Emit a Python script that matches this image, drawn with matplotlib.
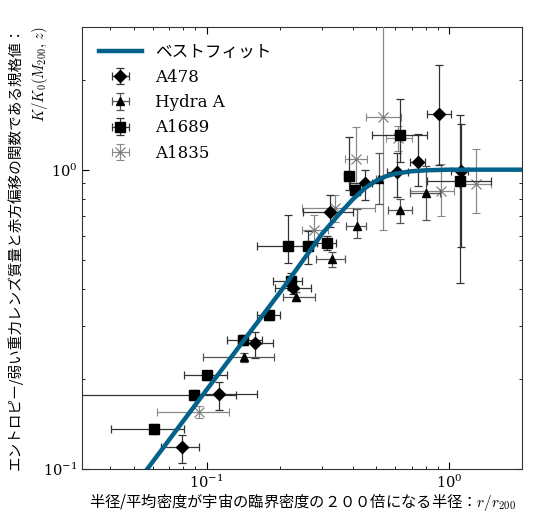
import matplotlib
matplotlib.use('Agg')
import matplotlib.pyplot as plt
import numpy as np

plt.rcParams['mathtext.fontset'] = 'cm'
plt.rcParams['font.family'] = ['DejaVu Serif']

# best-fit curve
fit_r = [0.05, 0.1, 0.2, 0.3, 0.35, 0.4, 0.45, 0.5, 0.55, 0.6, 0.7, 0.8, 1.0, 2.0]
fit_k = [0.087, 0.184, 0.388, 0.612, 0.707, 0.795, 0.868, 0.918, 0.951, 0.97, 0.988, 0.995, 1.0, 1.0]

# A478 (diamonds)
a478_r = [0.0794, 0.112, 0.159, 0.228, 0.324, 0.451, 0.607, 0.741, 0.91, 1.117]
a478_k = [0.119, 0.178, 0.263, 0.404, 0.722, 0.903, 0.979, 1.057, 1.535, 0.987]
a478_rlo = [0.0649, 0.09, 0.135, 0.191, 0.249, 0.39, 0.552, 0.688, 0.807, 1.02]
a478_rhi = [0.093, 0.161, 0.188, 0.27, 0.40, 0.48, 0.677, 0.794, 1.02, 1.2]
a478_klo = [0.105, 0.157, 0.235, 0.385, 0.646, 0.79, 0.81, 0.88, 1.04, 0.55]
a478_khi = [0.13, 0.196, 0.288, 0.425, 0.825, 1.0, 1.14, 1.32, 2.23, 1.42]

# Hydra A (triangles)
hyd_r = [0.1425, 0.233, 0.328, 0.418, 0.515, 0.63, 0.8]
hyd_k = [0.236, 0.377, 0.503, 0.65, 0.93, 0.735, 0.836]
hyd_rlo = [0.097, 0.206, 0.282, 0.377, 0.5, 0.56, 0.688]
hyd_rhi = [0.19, 0.28, 0.372, 0.456, 0.53, 0.7, 0.915]
hyd_klo = [0.228, 0.365, 0.475, 0.59, 0.77, 0.665, 0.68]
hyd_khi = [0.244, 0.39, 0.533, 0.74, 1.14, 0.80, 1.03]

# A1689 (squares)
a1689_r = [0.0607, 0.0887, 0.1, 0.141, 0.181, 0.222, 0.217, 0.262, 0.313, 0.386, 0.409, 0.626, 1.106]
a1689_k = [0.136, 0.177, 0.206, 0.27, 0.327, 0.425, 0.557, 0.554, 0.571, 0.955, 0.853, 1.31, 0.917]
a1689_rlo = [0.0405, 0.02, 0.081, 0.121, 0.161, 0.188, 0.162, 0.25, 0.284, 0.37, 0.39, 0.483, 0.807]
a1689_rhi = [0.0806, 0.132, 0.121, 0.17, 0.2, 0.247, 0.258, 0.275, 0.343, 0.40, 0.43, 0.807, 1.49]
a1689_klo = [0.131, 0.170, 0.199, 0.26, 0.316, 0.397, 0.488, 0.485, 0.54, 0.857, 0.82, 1.06, 0.42]
a1689_khi = [0.141, 0.184, 0.213, 0.28, 0.338, 0.452, 0.707, 0.622, 0.60, 1.29, 0.89, 1.72, 1.52]

# A1835 (crosses)
a1835_r = [0.093, 0.277, 0.338, 0.412, 0.535, 0.617, 0.924, 1.285]
a1835_k = [0.155, 0.627, 0.744, 1.086, 1.496, 1.28, 0.851, 0.898]
a1835_rlo = [0.0622, 0.247, 0.247, 0.372, 0.453, 0.55, 0.688, 1.1]
a1835_rhi = [0.124, 0.316, 0.494, 0.457, 0.636, 0.70, 1.05, 1.49]
a1835_klo = [0.148, 0.561, 0.67, 0.84, 0.63, 1.15, 0.70, 0.718]
a1835_khi = [0.162, 0.707, 0.825, 1.39, 5.0, 1.40, 1.047, 1.17]


def errs(v, lo, hi):
    v = np.array(v)
    return [v - np.array(lo), np.array(hi) - v]


fig = plt.figure(figsize=(5.35, 5.15), dpi=100)
ax = fig.add_axes([0.153, 0.089, 0.823, 0.859])

ax.plot(fit_r, fit_k, color='#03628a', lw=3.2, label='ベストフィット', zorder=5)

ax.errorbar(a478_r, a478_k, xerr=errs(a478_r, a478_rlo, a478_rhi), yerr=errs(a478_k, a478_klo, a478_khi),
            fmt='D', color='black', ms=6.5, ecolor='#333333', elinewidth=0.9, capsize=3, capthick=0.9,
            label='A478', zorder=4)
ax.errorbar(hyd_r, hyd_k, xerr=errs(hyd_r, hyd_rlo, hyd_rhi), yerr=errs(hyd_k, hyd_klo, hyd_khi),
            fmt='^', color='black', ms=6, ecolor='#555555', elinewidth=0.9, capsize=3, capthick=0.9,
            label='Hydra A', zorder=4)
ax.errorbar(a1689_r, a1689_k, xerr=errs(a1689_r, a1689_rlo, a1689_rhi), yerr=errs(a1689_k, a1689_klo, a1689_khi),
            fmt='s', color='black', ms=6.5, ecolor='#333333', elinewidth=0.9, capsize=3, capthick=0.9,
            label='A1689', zorder=4)
ax.errorbar(a1835_r, a1835_k, xerr=errs(a1835_r, a1835_rlo, a1835_rhi), yerr=errs(a1835_k, a1835_klo, a1835_khi),
            fmt='x', color='#777777', ms=7, mew=0.8, ecolor='#888888', elinewidth=0.9, capsize=3, capthick=0.9,
            label='A1835', zorder=3)

ax.set_xscale('log')
ax.set_yscale('log')
ax.set_xlim(0.0306, 2.0)
ax.set_ylim(0.1, 3.0)

ax.tick_params(which='both', direction='in', top=True, right=True, labelsize=10.5, pad=3)
ax.tick_params(which='major', length=5)
ax.tick_params(which='minor', length=2.5)
for s in ax.spines.values():
    s.set_color('#333333')

jp = ['Noto Sans CJK JP', 'DejaVu Sans']
ax.set_xlabel('半径/平均密度が宇宙の臨界密度の２００倍になる半径：$r/r_{200}$',
              family=jp, fontsize=11, labelpad=0)
ax.set_ylabel('エントロピー/弱い重力レンズ質量と赤方偏移の関数である規格値：\n$K/K_0(M_{200},\\,z)$',
              family=jp, fontsize=10.5, multialignment='right', linespacing=1.5)
ax.yaxis.set_label_coords(-0.072, 0.5)

leg = ax.legend(loc='upper left', frameon=False, handlelength=2.6, borderaxespad=0.6,
                prop={'family': ['DejaVu Serif', 'Noto Sans CJK JP'], 'size': 12})

fig.savefig('out.png', dpi=100)
